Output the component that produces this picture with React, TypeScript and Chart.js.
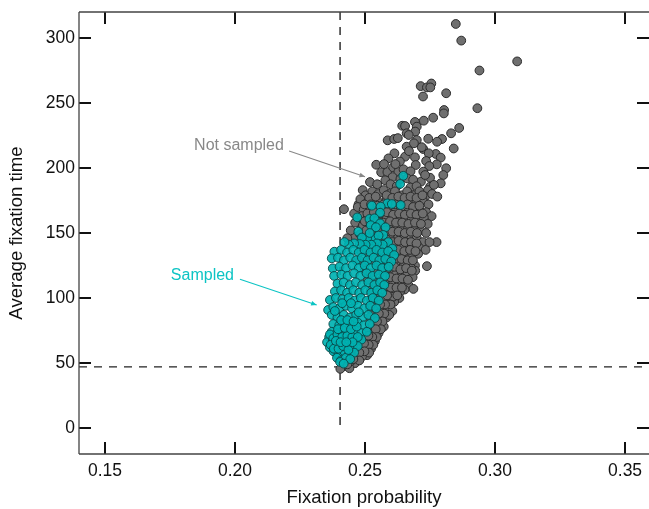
import React, { useEffect, useRef } from "react";
import { Chart, registerables } from "chart.js";

Chart.register(...registerables);

type P = [number, number];

const xTicks = [0.15, 0.2, 0.25, 0.3, 0.35];
const yTicks = [0, 50, 100, 150, 200, 250, 300];
const thresholdX = 0.2404;
const thresholdY = 47;

const notSampledUpper: P[] = [
  [.2849,310.8],[.287,298],[.3085,282],[.294,275],[.2932,246],[.2714,263],[.2738,262],[.2755,265],[.2751,262],[.2723,255],
  [.2812,257.5],[.2804,244.6],[.2803,242],[.2762,238.7],[.2726,236.4],[.2692,235.4],[.2643,232.5],[.2654,232.3],[.2699,231.8],[.2862,230.8],
  [.2831,226.7],[.2693,228],[.266,226.7],[.2668,225.4],[.2743,222.5],[.2796,222.3],[.2777,220.2],[.2699,221.5],[.2587,221.3],[.2612,222.3],
  [.2626,223],[.2841,215],[.2724,214.6],[.2718,216],[.266,216.4],[.2688,219],[.2613,211.3],[.2654,208.7],[.2692,208.2],[.2669,213],
  [.259,207.4],[.2772,210.8],[.2745,211.3],[.2791,208],[.2735,205.4],[.2776,202.8],[.2812,199.8],[.2801,194.6],[.2791,188.2],[.2543,202.5],
  [.2562,196.7],[.2586,196.9],[.2695,202.3],[.2519,189.2],[.2547,187.5],[.2491,183],[.2747,201.5],[.2724,197.2],[.275,192.5],[.275,185.6],
  [.2715,189.5],[.2731,194.6],[.2634,205],[.2608,200.5],[.2628,197],[.2648,199],[.2675,197.5],[.2606,193],[.2636,191.5],[.2662,192],
  [.2685,191],[.2578,190.5],[.2598,187.5],[.2622,186],[.2675,185],[.2698,186],[.2742,183],[.2765,187],[.2617,203],[.2573,203],
  [.2419,168.3],[.2461,147],[.2445,152],[.2432,146],[.2458,165],[.2475,172],[.2478,158],[.2462,158],
];

const notSampledBody: P[] = [
  [.2502,179],[.2528,182],[.2551,180],[.2572,183],[.2594,180],[.2615,182],[.2641,179],[.2662,182],[.2686,179],[.2709,182],[.2731,178],[.2758,180],[.2778,178],
  [.2482,176],[.2511,174],[.2536,176],[.2559,173],[.2583,176],[.2604,173],[.2628,175],[.2651,173],[.2674,175],[.2697,173],[.2722,175],[.2744,172],
  [.2472,170],[.2495,168],[.2522,169],[.2545,167],[.2572,169],[.2596,166],[.2618,169],[.2642,166],[.2663,169],[.2687,166],[.2708,168],[.2735,166],[.2756,163],
  [.2488,163],[.2509,161],[.2531,163],[.2558,161],[.2582,163],[.2607,160],[.2631,162],[.2654,160],[.2678,162],[.2702,160],[.2726,162],[.2741,157],
  [.2492,156],[.2517,154],[.2541,156],[.2566,154],[.2592,156],[.2618,153],[.2641,155],[.2665,153],[.2689,155],[.2713,152],[.2735,150],
  [.2481,149],[.2505,147],[.2528,149],[.2553,147],[.2581,149],[.2604,146],[.2627,148],[.2652,146],[.2676,148],[.2699,146],[.2722,143],
  [.2491,142],[.2518,140],[.2544,142],[.2569,140],[.2594,142],[.2617,139],[.2642,141],[.2666,139],[.2688,141],[.2707,139],[.2733,137],[.2775,143],[.2704,134],[.2748,143],
  [.2484,136],[.2511,134],[.2538,136],[.2562,133],[.2586,135],[.2611,132],[.2635,134],[.2658,132],[.2681,134],
  [.2479,129],[.2503,127],[.2528,129],[.2553,126],[.2578,128],[.2602,126],[.2626,128],[.2649,125],[.2672,127],[.2692,125],[.2738,124.5],[.2693,121],
  [.2499,121],[.2521,119],[.2546,121],[.2571,119],[.2597,121],[.2618,118],[.2641,120],[.2662,118],[.2683,116],[.2677,123],
  [.2511,114],[.2538,112],[.2562,114],[.2586,111],[.2608,113],[.2631,111],[.2654,113],[.2668,109.5],[.2686,107],[.2652,106.5],[.2635,105],
  [.2522,106],[.2547,104],[.2572,106],[.2596,103],[.2618,104],[.2632,100],[.2612,97],[.2594,97],[.2571,99],[.2546,98],[.2523,99],
  [.2518,92],[.2543,91],[.2566,92],[.2587,91],[.2605,90],[.2583,85],[.2563,85],[.2541,85],[.2518,85],[.2572,78],[.2551,79],[.2528,79],
  [.2506,74],[.2532,73],[.2552,73],[.2538,67],[.2518,67],[.2494,68],[.2523,61],[.2503,62],[.2482,61],[.2508,56],[.2488,55],[.2468,55],[.2462,50],[.2442,50.5],[.2418,47.5],[.244,46],[.2405,45.5],
  [.2421,66],[.2385,64],[.2382,60],[.2395,56],
];

const notSampledFill: P[] = [
  [.2516,177],[.2541,178],[.2583,179],[.2605,177],[.2628,178],[.2652,177],[.2675,178],[.2698,177],[.2721,179],
  [.2498,172],[.2523,172],[.2548,171],[.2571,172],[.2594,171],[.2616,172],[.2639,170],[.2663,172],[.2685,170],[.2709,171],
  [.2509,165],[.2534,166],[.2558,165],[.2584,166],[.2608,164],[.2631,165],[.2653,164],[.2676,165],[.2698,164],[.2722,165],
  [.2499,159],[.2521,158],[.2546,159],[.2571,158],[.2596,159],[.2619,158],[.2643,158],[.2667,157],[.2692,158],[.2715,157],
  [.2505,152],[.2531,152],[.2555,151],[.2579,152],[.2605,151],[.2629,151],[.2653,150],[.2676,151],[.27,150],
  [.2498,145],[.2532,144],[.2558,144],[.2582,145],[.2606,143],[.2629,144],[.2654,143],[.2677,143],[.2698,142],
  [.2502,138],[.2531,138],[.2556,137],[.2581,138],[.2605,137],[.2628,137],[.2651,136],[.2673,137],[.2694,136],
  [.2541,131],[.2567,130],[.2593,131],[.2617,130],[.264,130],[.2664,129],[.2684,129],
  [.2562,124],[.2589,123],[.2613,124],[.2636,122],[.2658,123],[.268,121],
  [.2574,116],[.2598,116],[.2621,115],[.2644,115],[.2665,114],
  [.2578,109],[.2599,108],[.2621,108],[.2642,108],[.2608,101],[.2624,102],[.2585,102],[.2598,95],[.2577,95],[.2558,95],
  [.2593,87],[.2574,88],[.2553,88],[.2567,82],[.2546,82],[.2561,76],[.2541,76],[.2545,70],[.2528,70],[.2513,71],[.2532,64],[.2514,64],[.2496,65],[.2516,58],[.2498,59],[.2478,58],[.2478,52],[.2455,53],[.2432,49],
];

const sampledUpper: P[] = [
  [.2647,194],[.2635,187.7],[.2637,171.5],[.2586,172.8],[.2603,172.3],[.2526,171],[.256,170.3],[.247,162],[.2558,165.6],[.2517,160.8],
  [.2536,161.3],[.2522,156],[.2558,157.4],[.2579,154.4],[.2542,154.4],[.2474,151],[.257,148.5],[.2532,145.9],[.2552,148],[.2508,146],
  [.2488,146.5],[.2518,150],[.2589,143],[.2568,141],[.2546,142],[.2524,141],[.2502,141],[.248,141.5],[.2458,142],[.2438,141],[.2421,143],[.2605,138],
];

const sampledBody: P[] = [
  [.2382,135.6],[.2408,137],[.2431,135],[.2455,137],[.2476,135],[.2498,137],[.2521,135],[.2544,137],[.2566,135],[.2589,136],[.2612,133],
  [.2372,130.5],[.2396,131],[.2419,129],[.2443,131],[.2466,129],[.2488,131],[.251,129],[.2533,131],[.2555,129],[.2578,130],[.2601,128],
  [.2376,122.8],[.2402,124],[.2427,123],[.2452,125],[.2476,123],[.2499,125],[.2522,123],[.2544,125],[.2566,123],[.2591,124],
  [.2381,117],[.2409,118],[.2433,117],[.2458,119],[.2482,117],[.2506,119],[.2529,117],[.2553,118],[.2577,117],
  [.2394,111],[.2418,112],[.2442,110],[.2465,112],[.2489,110],[.2513,112],[.2536,110],[.2558,112],[.2574,110],
  [.2384,105],[.2408,106],[.2431,104],[.2455,106],[.2478,104],[.2501,106],[.2524,104],[.2547,106],[.2566,104],
  [.2365,98.5],[.2388,100],[.2413,99],[.2437,100],[.246,98],[.2484,100],[.2507,98],[.253,100],[.2553,98],
  [.2358,90.8],[.2378,93],[.2402,92],[.2426,94],[.245,92],[.2473,94],[.2497,92],[.252,94],[.2543,92],
  [.2372,87],[.2394,85],[.2418,87],[.2442,85],[.2466,87],[.249,85],[.2513,87],[.2538,84.6],
  [.2378,80],[.2401,79],[.2424,81],[.2448,79],[.2472,81],[.2495,79],[.2518,80],
  [.2372,74],[.2393,73],[.2416,75],[.2438,73],[.2462,75],[.2486,73],[.2507,74],
  [.2362,70],[.2354,66],[.2376,67],[.2398,69],[.2419,67],[.2441,69],[.2463,67],[.2486,68],
  [.2365,62],[.2387,64],[.2408,62],[.243,64],[.2452,62],[.2472,63],
  [.2379,59],[.2398,57],[.242,59],[.244,57],[.2458,58],
  [.2392,54],[.2408,52],[.2426,54],[.2443,53],[.2404,50.8],[.2418,49.5],
  [.2365,72],[.2378,69],[.2394,72],[.2412,70],[.2432,71],[.2451,70],[.2472,70],
  [.2368,64],[.238,61],[.2398,61],[.2416,63],[.2436,60],[.2452,66],[.2388,67],[.2406,66],[.2428,66],
  [.2396,76],[.2422,77],[.2446,76],[.2468,78],[.2408,83],[.2432,83],[.2456,82],[.2384,90],[.2412,96],[.2446,96],[.2476,89],
];

const notSampledLabel = "Not sampled";
const sampledLabel = "Sampled";
const notSampledArrow: P[] = [[.2208,213],[.25,193.3]];
const sampledArrow: P[] = [[.2019,114.4],[.2314,94.6]];

function App() {
  const ref = useRef<HTMLCanvasElement | null>(null);
  useEffect(() => {
    document.body.style.margin = "0";
    const decor = {
      id: "decor",
      afterDatasetsDraw(chart: any) {
        const { ctx, scales } = chart;
        const sx = scales.x, sy = scales.y;
        const area = chart.chartArea;
        ctx.save();
        ctx.strokeStyle = "#111";
        ctx.lineWidth = 2;
        xTicks.forEach((t) => {
          const p = Math.round(sx.getPixelForValue(t));
          ctx.beginPath(); ctx.moveTo(p, area.bottom); ctx.lineTo(p, area.bottom - 12);
          ctx.moveTo(p, area.top); ctx.lineTo(p, area.top + 12); ctx.stroke();
        });
        yTicks.forEach((t) => {
          const p = Math.round(sy.getPixelForValue(t));
          ctx.beginPath(); ctx.moveTo(area.left, p); ctx.lineTo(area.left + 12, p);
          ctx.moveTo(area.right, p); ctx.lineTo(area.right - 12, p); ctx.stroke();
        });
        ctx.strokeStyle = "#444";
        ctx.lineWidth = 1.3;
        ctx.beginPath();
        ctx.moveTo(area.left, area.top); ctx.lineTo(area.right, area.top);
        ctx.moveTo(area.left, area.bottom); ctx.lineTo(area.right, area.bottom);
        ctx.moveTo(area.left, area.top); ctx.lineTo(area.left, area.bottom);
        ctx.stroke();
        const head = (a: P[], color: string) => {
          const x0 = sx.getPixelForValue(a[0][0]), y0 = sy.getPixelForValue(a[0][1]);
          const x1 = sx.getPixelForValue(a[1][0]), y1 = sy.getPixelForValue(a[1][1]);
          const ang = Math.atan2(y1 - y0, x1 - x0);
          ctx.fillStyle = color;
          ctx.beginPath();
          ctx.moveTo(x1, y1);
          ctx.lineTo(x1 - 6 * Math.cos(ang - 0.4), y1 - 6 * Math.sin(ang - 0.4));
          ctx.lineTo(x1 - 6 * Math.cos(ang + 0.4), y1 - 6 * Math.sin(ang + 0.4));
          ctx.closePath(); ctx.fill();
        };
        head(notSampledArrow, "#888888");
        head(sampledArrow, "#0cc4c4");
        ctx.font = '16px "Liberation Sans"';
        ctx.textBaseline = "middle";
        ctx.textAlign = "right";
        ctx.fillStyle = "#888888";
        ctx.fillText(notSampledLabel, sx.getPixelForValue(.2188), sy.getPixelForValue(217));
        ctx.fillStyle = "#0cc4c4";
        ctx.fillText(sampledLabel, sx.getPixelForValue(.1996), sy.getPixelForValue(117));
        ctx.restore();
      },
    };
    const gray = { backgroundColor: "#6f6f6f", borderColor: "#2b2b2b" };
    const teal = { backgroundColor: "rgba(0,178,178,0.92)", borderColor: "rgba(10,70,70,0.9)" };
    const scatter = (data: P[], st: any) => ({
      type: "scatter", data: data.map(([x, y]) => ({ x, y })), pointRadius: 4.4, borderWidth: 1, pointBorderWidth: 1, ...st,
    });
    const line = (data: P[], color: string, dash: number[], w: number) => ({
      type: "line", data: data.map(([x, y]) => ({ x, y })), borderColor: color, borderWidth: w, borderDash: dash,
      pointRadius: 0, fill: false, tension: 0,
    });
    const chart = new Chart(ref.current as HTMLCanvasElement, {
      type: "scatter",
      data: {
        datasets: [
          line(notSampledArrow, "#888888", [], 1.1),
          line(sampledArrow, "#0cc4c4", [], 1.1),
          scatter(sampledBody, teal),
          scatter(sampledUpper, teal),
          scatter(notSampledFill, gray),
          scatter(notSampledBody, gray),
          scatter(notSampledUpper, gray),
          line([[thresholdX, 320], [thresholdX, -1.5]], "#222", [8, 7], 1.4),
          line([[0.14, thresholdY], [0.3592, thresholdY]], "#222", [8, 7], 1.4),
        ] as any,
      },
      options: {
        animation: false,
        responsive: false,
        maintainAspectRatio: false,
        layout: { autoPadding: false, padding: { top: 12, right: 0, left: 0, bottom: 0 } },
        plugins: { legend: { display: false }, tooltip: { enabled: false } },
        scales: {
          x: {
            type: "linear", min: 0.14, max: 0.3592,
            afterBuildTicks: (s: any) => { s.ticks = xTicks.map((value) => ({ value })); },
            afterFit: (s: any) => { s.height = 55; s.paddingLeft = 0; s.paddingRight = 0; },
            grid: { display: false, drawTicks: false },
            border: { display: false },
            ticks: { color: "#111", padding: 7, maxRotation: 0, font: { family: "Liberation Sans", size: 17.5 }, callback: (v: any) => Number(v).toFixed(2) },
            title: { display: true, text: "Fixation probability", color: "#111", padding: { top: 2, bottom: 0 }, font: { family: "Liberation Sans", size: 18.6 } },
          },
          y: {
            type: "linear", min: -20, max: 320,
            afterBuildTicks: (s: any) => { s.ticks = yTicks.map((value) => ({ value })); },
            afterFit: (s: any) => { s.width = 79; s.paddingTop = 0; s.paddingBottom = 0; },
            grid: { display: false, drawTicks: false },
            border: { display: false },
            ticks: { color: "#111", padding: 4, font: { family: "Liberation Sans", size: 17.5 } },
            title: { display: true, text: "Average fixation time", color: "#111", padding: { top: 6, bottom: 5 }, font: { family: "Liberation Sans", size: 18.6 } },
          },
        },
      } as any,
      plugins: [decor],
    } as any);
    return () => chart.destroy();
  }, []);
  return (
    <div style={{ position: "fixed", left: 0, top: 0, width: 649, height: 509 }}>
      <canvas ref={ref} width={649} height={509} style={{ display: "block", width: 649, height: 509 }} />
    </div>
  );
}

export default App;
